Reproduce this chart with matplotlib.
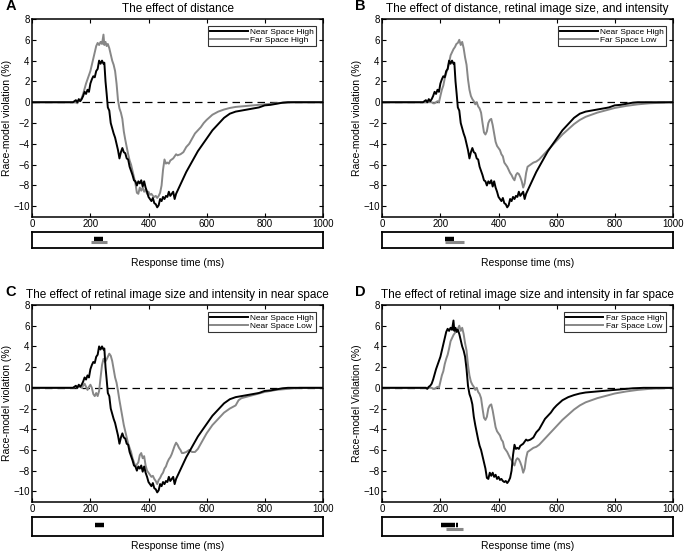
import numpy as np
import matplotlib
matplotlib.use("Agg")
import matplotlib.pyplot as plt

plt.rcParams['font.family'] = ['Liberation Sans', 'DejaVu Sans']

# race-model violation curves (%)
t_near_high = [0, 140, 150, 155, 160, 165, 170, 175, 180, 185, 190, 195, 200, 205, 210, 215, 220, 225,
               230, 235, 240, 245, 248, 252, 256, 260, 265, 270, 275, 280, 285, 290, 295, 300, 305,
               310, 315, 320, 325, 330, 335, 340, 345, 350, 355, 360, 365, 370, 375, 380, 385, 390,
               395, 400, 405, 410, 415, 420, 425, 430, 435, 440, 445, 450, 455, 460, 465, 470, 475,
               480, 485, 490, 495, 500, 510, 520, 530, 540, 550, 560, 570, 580, 590, 600, 620, 640,
               660, 680, 700, 720, 740, 760, 780, 800, 820, 840, 860, 880, 1000]
v_near_high = [0, 0, 0.2, 0.0, 0.3, 0.1, 0.3, 0.6, 1.0, 0.8, 1.2, 1.0, 1.8, 2.2, 2.5, 2.4, 3.0, 3.2,
               4.0, 3.7, 4.0, 3.7, 3.8, 2.0, 0.8, -0.5, -0.8, -2.0, -2.5, -3.0, -3.4, -4.0, -4.6, -5.4, -4.8,
               -4.4, -4.8, -4.9, -5.4, -5.5, -6.2, -6.6, -7.0, -7.5, -7.6, -8.0, -7.6, -7.8, -7.5, -8.1, -7.6, -8.2,
               -8.6, -9.1, -9.3, -9.5, -9.2, -9.7, -9.8, -10.1, -9.9, -9.3, -9.5, -9.1, -9.3, -9.0, -9.1, -8.6, -9.0,
               -8.8, -8.6, -9.3, -8.8, -8.5, -7.9, -7.3, -6.7, -6.2, -5.7, -5.2, -4.7, -4.3, -3.9, -3.5, -2.7, -2.1,
               -1.5, -1.1, -0.9, -0.8, -0.7, -0.6, -0.5, -0.3, -0.25, -0.15, -0.05, 0.0, 0.0]

t_far_high = [0, 150, 155, 160, 165, 170, 175, 180, 185, 190, 195, 200, 205, 210, 215, 220, 225, 230,
              235, 240, 245, 248, 252, 256, 260, 265, 270, 275, 280, 285, 290, 295, 300, 305, 310, 315,
              320, 325, 330, 335, 340, 345, 350, 355, 360, 365, 370, 375, 380, 385, 390, 395, 400, 405,
              410, 415, 420, 425, 430, 435, 440, 445, 450, 455, 460, 465, 470, 475, 480, 485, 490, 495,
              500, 510, 520, 530, 540, 550, 560, 570, 580, 590, 600, 620, 640, 660, 680, 700, 740, 780,
              820, 860, 900, 1000]
v_far_high = [0, 0, -0.1, 0.1, 0.2, 0.4, 0.8, 1.3, 1.8, 2.2, 2.6, 3.0, 3.6, 4.2, 4.8, 5.4, 5.7, 5.5,
              5.8, 5.6, 6.5, 5.5, 5.8, 5.4, 5.6, 5.2, 4.6, 4.0, 3.6, 3.0, 1.8, 0.2, -0.6, -1.0, -1.6, -2.8,
              -3.6, -4.3, -5.0, -5.6, -6.0, -6.6, -7.2, -7.8, -8.7, -8.8, -8.2, -8.5, -8.2, -8.6, -8.4, -8.8, -8.6, -8.9,
              -8.8, -9.0, -9.1, -9.0, -9.2, -9.0, -8.7, -8.0, -6.5, -5.5, -5.9, -5.8, -5.9, -5.6, -5.5, -5.4, -5.2, -5.0,
              -5.1, -5.0, -4.8, -4.3, -4.0, -3.5, -3.0, -2.7, -2.4, -2.0, -1.7, -1.2, -0.9, -0.7, -0.55, -0.45, -0.35, -0.25,
              -0.15, -0.05, 0, 0]

t_far_low = [0, 170, 175, 180, 185, 190, 195, 200, 205, 210, 215, 220, 225, 230, 235, 240, 245, 250,
             255, 260, 265, 270, 275, 280, 285, 290, 295, 300, 305, 310, 315, 320, 325, 330, 335, 340,
             345, 350, 355, 360, 365, 370, 375, 380, 385, 390, 395, 400, 405, 410, 415, 420, 425, 430,
             435, 440, 445, 450, 455, 460, 465, 470, 475, 480, 485, 490, 495, 500, 510, 520, 530, 540,
             550, 560, 570, 580, 590, 600, 620, 640, 660, 680, 700, 720, 740, 760, 780, 800, 840, 880,
             920, 960, 1000]
v_far_low = [0, 0, -0.1, -0.1, 0.0, 0.1, 0.0, 0.6, 1.2, 1.6, 2.3, 2.8, 3.2, 3.8, 4.5, 4.8, 5.1, 5.3,
             5.6, 5.7, 6.0, 5.5, 5.8, 5.2, 4.3, 3.6, 2.2, 1.2, 0.6, 0.3, 0.1, -0.2, 0.0, -0.4, -0.6, -1.0,
             -2.0, -2.9, -3.1, -2.8, -2.0, -1.7, -1.6, -2.2, -3.0, -3.8, -4.2, -4.4, -4.6, -5.0, -5.2, -5.8, -6.0, -6.2,
             -6.5, -6.8, -7.0, -7.3, -7.5, -7.0, -6.8, -6.9, -7.2, -7.6, -8.2, -7.8, -6.8, -6.2, -6.0, -5.8, -5.7, -5.5,
             -5.2, -4.9, -4.6, -4.3, -4.0, -3.7, -3.1, -2.6, -2.1, -1.7, -1.4, -1.2, -1.0, -0.85, -0.7, -0.55, -0.35, -0.2,
             -0.1, -0.05, 0]

t_near_low = [0, 140, 150, 155, 160, 165, 170, 175, 180, 185, 190, 195, 200, 205, 210, 215, 220, 225,
              230, 235, 240, 245, 250, 255, 260, 265, 270, 275, 280, 285, 290, 295, 300, 305, 310, 315,
              320, 325, 330, 335, 340, 345, 350, 355, 360, 365, 370, 375, 380, 385, 390, 395, 400, 405,
              410, 415, 420, 425, 430, 435, 440, 445, 450, 455, 460, 465, 470, 475, 480, 485, 490, 495,
              500, 505, 510, 515, 520, 530, 540, 550, 560, 570, 580, 590, 600, 620, 640, 660, 680, 700,
              710, 720, 740, 760, 780, 800, 840, 880, 920, 1000]
v_near_low = [0, 0, 0.1, 0.0, 0.2, 0.1, 0.0, 0.2, 0.4, 0.1, -0.2, 0.1, 0.3, 0.0, -0.6, -0.8, -0.5, -0.8,
              -0.3, 1.0, 2.2, 2.8, 2.5, 2.7, 3.0, 3.3, 3.1, 2.6, 1.8, 1.0, 0.5, -0.3, -1.2, -2.0, -2.8, -3.6,
              -4.2, -4.8, -5.4, -5.8, -6.2, -6.8, -7.2, -7.6, -7.4, -7.2, -6.5, -6.3, -6.8, -6.6, -7.5, -8.0, -8.2, -8.4,
              -8.6, -8.5, -8.8, -9.0, -9.3, -8.9, -8.7, -8.4, -8.2, -7.8, -7.6, -7.2, -6.9, -6.7, -6.4, -6.0, -5.6, -5.3,
              -5.5, -5.8, -6.0, -6.3, -6.3, -6.2, -6.0, -6.2, -6.2, -5.9, -5.4, -4.9, -4.4, -3.6, -3.0, -2.4, -2.0, -1.7,
              -1.2, -1.0, -0.85, -0.7, -0.55, -0.4, -0.2, -0.1, 0, 0]

series = {
    'Near Space High': (t_near_high, v_near_high),
    'Far Space High': (t_far_high, v_far_high),
    'Far Space Low': (t_far_low, v_far_low),
    'Near Space Low': (t_near_low, v_near_low),
}

titles = ['The effect of distance',
          'The effect of distance, retinal image size, and intensity',
          'The effect of retinal image size and intensity in near space',
          'The effect of retinal image size and intensity in far space']
letters = ['A', 'B', 'C', 'D']
pairs = [('Near Space High', 'Far Space High'),
         ('Near Space High', 'Far Space Low'),
         ('Near Space High', 'Near Space Low'),
         ('Far Space High', 'Far Space Low')]
ylabels = ['Race-model violation (%)'] * 3 + ['Race-model Violation (%)']
# significant time windows (ms) for the black / gray condition
sig_black = [[(212, 245)], [(216, 247)], [(216, 247)], [(203, 250), (254, 262)]]
sig_gray = [[(202, 258)], [(216, 282)], [], [(218, 278)]]

GRAY = '#878787'
W, H = 685, 553
fig = plt.figure(figsize=(W / 100, H / 100), dpi=100)

lefts = [32.3, 382.3, 32.3, 382.3]
tops = [19, 19, 305, 305]
bottoms = [216.7, 216.7, 501.7, 501.7]
strips = [(231.7, 248.3), (231.7, 248.3), (517.3, 535.7), (517.3, 535.7)]
xlabel_pads = [7, 7, 4, 4]
width = 290.5

for i in range(4):
    l, t, b = lefts[i], tops[i], bottoms[i]
    ax = fig.add_axes([l / W, 1 - b / H, width / W, (b - t) / H])
    c1, c2 = pairs[i]
    ax.plot(*series[c1], color='black', lw=1.4, label=c1, zorder=3)
    ax.plot(*series[c2], color=GRAY, lw=1.4, label=c2, zorder=2)
    ax.axhline(0, color='black', lw=0.9, ls=(0, (6, 4)), zorder=1)
    ax.set_xlim(0, 1000)
    ax.set_ylim(-11, 8)
    ax.set_yticks(np.arange(-10, 9, 2))
    ax.set_xticks(np.arange(0, 1001, 200))
    ax.tick_params(direction='in', top=True, right=True, length=3, width=0.8,
                   labelsize=7, pad=2, color='black')
    for s in ax.spines.values():
        s.set_linewidth(1.1)
    ax.set_ylabel(ylabels[i], fontsize=7.5, labelpad=1)
    ax.set_title(titles[i], fontsize=8.5, pad=5)
    leg = ax.legend(loc='upper right', fontsize=6, handlelength=4.5, frameon=True,
                    fancybox=False, borderpad=0.25, labelspacing=0.05, handletextpad=0.3,
                    borderaxespad=0.8)
    leg.get_frame().set_edgecolor('black')
    leg.get_frame().set_linewidth(0.8)
    fig.text((l - 27) / W, 1 - t / H + 0.01, letters[i], fontsize=10.5, fontweight='bold',
             ha='left', va='bottom')

    st, sb = strips[i]
    sx = fig.add_axes([l / W, 1 - sb / H, width / W, (sb - st) / H])
    sx.set_xlim(0, 1000)
    sx.set_ylim(0, 1)
    for a, e in sig_black[i]:
        sx.plot([a, e], [0.58, 0.58], color='black', lw=3.2, solid_capstyle='butt')
    for a, e in sig_gray[i]:
        sx.plot([a, e], [0.38, 0.38], color=GRAY, lw=2.2, solid_capstyle='butt')
    sx.set_xticks([])
    sx.set_yticks([])
    for s in sx.spines.values():
        s.set_linewidth(1.3)
    sx.set_xlabel('Response time (ms)', fontsize=7.5, labelpad=xlabel_pads[i])

fig.savefig('out.png', dpi=100)
